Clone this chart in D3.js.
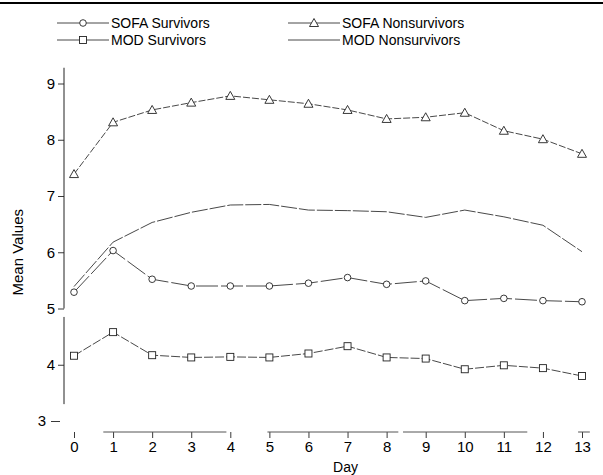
<!DOCTYPE html>
<html>
<head>
<meta charset="utf-8">
<script src="https://cdn.jsdelivr.net/npm/d3@7"></script>
<style>
  html, body { margin: 0; padding: 0; background: #fff; }
</style>
</head>
<body>
<script>
const days = [0, 1, 2, 3, 4, 5, 6, 7, 8, 9, 10, 11, 12, 13];
const sofaSurvivors = [5.29, 6.03, 5.52, 5.40, 5.40, 5.40, 5.45, 5.55, 5.43, 5.49, 5.14, 5.18, 5.14, 5.12];
const sofaNonsurvivors = [7.39, 8.31, 8.53, 8.66, 8.78, 8.71, 8.64, 8.53, 8.37, 8.40, 8.48, 8.16, 8.01, 7.75];
const modSurvivors = [4.16, 4.58, 4.17, 4.13, 4.14, 4.13, 4.20, 4.33, 4.13, 4.11, 3.92, 3.99, 3.94, 3.80];
const modNonsurvivors = [5.39, 6.18, 6.53, 6.71, 6.84, 6.85, 6.75, 6.74, 6.72, 6.62, 6.75, 6.63, 6.48, 6.01];
const yTicks = [3, 4, 5, 6, 7, 8, 9];

const width = 603;
const height = 475;
const font = "'Liberation Sans', Arial, Helvetica, sans-serif";
const ink = "#222";
const axisY = 432;

const x = d3.scaleLinear().domain([0, 13]).range([74, 582]);
const y = d3.scaleLinear().domain([3, 9]).range([421, 83.5]);

const svg = d3.select("body")
  .append("svg")
  .attr("width", width)
  .attr("height", height)
  .attr("viewBox", `0 0 ${width} ${height}`);

svg.append("rect").attr("width", width).attr("height", height).attr("fill", "#fff");

// top rule
svg.append("line")
  .attr("x1", 0).attr("x2", width)
  .attr("y1", 3).attr("y2", 3)
  .attr("stroke", "#000").attr("stroke-width", 2);

// marker shapes
const markers = {
  circle: (g, cx, cy) => g.append("circle").attr("cx", cx).attr("cy", cy).attr("r", 3.3),
  square: (g, cx, cy) => g.append("rect").attr("x", cx - 3.5).attr("y", cy - 3.5).attr("width", 7).attr("height", 7),
  triangle: (g, cx, cy) => g.append("path").attr("d", `M${cx},${cy - 4.5}L${cx + 4.5},${cy + 3.5}L${cx - 4.5},${cy + 3.5}Z`),
  none: () => {},
};

const series = [
  { name: "SOFA Survivors", values: sofaSurvivors, marker: "circle", dash: "22,3" },
  { name: "SOFA Nonsurvivors", values: sofaNonsurvivors, marker: "triangle", dash: "7,2" },
  { name: "MOD Survivors", values: modSurvivors, marker: "square", dash: "9,2" },
  { name: "MOD Nonsurvivors", values: modNonsurvivors, marker: "none", dash: "16,2" },
];

// y axis
const yAxis = svg.append("g")
  .attr("transform", "translate(64,0)")
  .call(d3.axisLeft(y).tickValues(yTicks).tickSize(6).tickSizeOuter(0).tickFormat(d3.format("d")));
yAxis.select(".domain").remove();
yAxis.selectAll(".tick line").attr("stroke", ink).attr("stroke-width", 0.9);
yAxis.selectAll(".tick")
  .filter((d) => d === 3)
  .select("line").attr("x1", -4).attr("x2", -13);
yAxis.selectAll(".tick")
  .filter((d) => d === 3)
  .select("text").attr("x", -18);
yAxis.selectAll("text")
  .attr("fill", "#000")
  .attr("font-family", font)
  .attr("font-size", 15);
// axis line, broken like the original print
[[9.28, 5.0], [4.85, 3.3]].forEach(([a, b]) => {
  svg.append("line")
    .attr("x1", 64).attr("x2", 64)
    .attr("y1", y(a)).attr("y2", y(b))
    .attr("stroke", ink).attr("stroke-width", 1);
});

// x axis
const xAxis = svg.append("g")
  .attr("transform", `translate(0,${axisY})`)
  .call(d3.axisBottom(x).tickValues(days).tickSize(6).tickPadding(3).tickSizeOuter(0));
xAxis.select(".domain").remove();
xAxis.selectAll(".tick line").attr("stroke", ink).attr("stroke-width", 0.9);
xAxis.selectAll("text")
  .attr("fill", "#000")
  .attr("font-family", font)
  .attr("font-size", 15);
[[0.75, 3.9], [4.95, 8.3], [8.42, 11.6], [12.9, 13.2]].forEach(([a, b]) => {
  svg.append("line")
    .attr("x1", x(a)).attr("x2", x(b))
    .attr("y1", axisY).attr("y2", axisY)
    .attr("stroke", "#555").attr("stroke-width", 1);
});

svg.append("text")
  .attr("x", x(7) - 2)
  .attr("y", 472)
  .attr("text-anchor", "middle")
  .attr("font-family", font)
  .attr("font-size", 14)
  .attr("fill", "#000")
  .text("Day");

svg.append("text")
  .attr("transform", `translate(23,${y(6)}) rotate(-90)`)
  .attr("text-anchor", "middle")
  .attr("font-family", font)
  .attr("font-size", 15)
  .attr("fill", "#000")
  .text("Mean Values");

// series
const line = d3.line().x((d, i) => x(days[i])).y((d) => y(d));
const plot = svg.append("g");
series.forEach((s) => {
  plot.append("path")
    .datum(s.values)
    .attr("d", line)
    .attr("fill", "none")
    .attr("stroke", "#333")
    .attr("stroke-width", 0.9)
    .attr("stroke-dasharray", s.dash);
  const mg = plot.append("g").attr("fill", "#fff").attr("stroke", "#222").attr("stroke-width", 0.9);
  s.values.forEach((v, i) => markers[s.marker](mg, x(days[i]), y(v)));
});

// legend
const legendRows = [
  { s: series[0], lx: 57, ly: 23 },
  { s: series[2], lx: 57, ly: 40 },
  { s: series[1], lx: 288, ly: 23 },
  { s: series[3], lx: 288, ly: 40 },
];
legendRows.forEach(({ s, lx, ly }) => {
  const g = svg.append("g");
  g.append("line")
    .attr("x1", lx).attr("x2", lx + 52)
    .attr("y1", ly).attr("y2", ly)
    .attr("stroke", "#333").attr("stroke-width", 0.9);
  const mg = g.append("g").attr("fill", "#fff").attr("stroke", "#222").attr("stroke-width", 0.9);
  markers[s.marker](mg, lx + 26, ly);
  g.append("text")
    .attr("x", lx + 54)
    .attr("y", ly + 5)
    .attr("font-family", font)
    .attr("font-size", 14)
    .attr("fill", "#000")
    .text(s.name);
});
</script>
</body>
</html>
